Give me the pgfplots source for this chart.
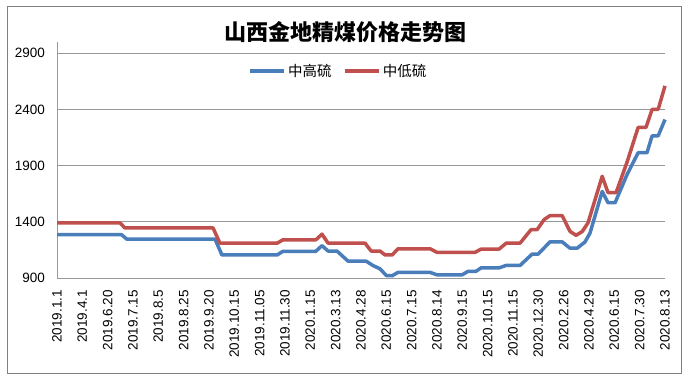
\documentclass[border=0pt]{standalone}
\usepackage{fontspec}
\usepackage{pgfplots}
\pgfplotsset{compat=1.18}
\setmainfont{Liberation Sans}
\newfontfamily\cjk{Noto Sans CJK SC}
\definecolor{sblue}{RGB}{74,126,187}
\definecolor{sred}{RGB}{192,80,77}
\begin{document}
\begin{tikzpicture}
\path[use as bounding box, fill=white] (0,0) rectangle (687bp,381bp);
\draw[black!50, line width=0.8bp] (7bp,8bp) rectangle (681bp,375bp);
\node at (345bp,349bp) {\cjk\bfseries\fontsize{22bp}{24bp}\selectfont 山西金地精煤价格走势图};
\begin{axis}[
 at={(57bp,103bp)}, anchor=south west, scale only axis,
 width=608bp, height=236bp,
 xmin=0, xmax=24, ymin=900, ymax=3000,
 ytick={900,1400,1900,2400,2900},
 xtick={0,...,24},
 xticklabels={2019.1.1,2019.4.1,2019.6.20,2019.7.15,2019.8.5,2019.8.25,2019.9.20,2019.10.15,2019.11.05,2019.11.30,2020.1.15,2020.3.13,2020.4.28,2020.6.15,2020.7.15,2020.8.14,2020.9.15,2020.10.15,2020.11.15,2020.12.30,2020.2.26,2020.4.29,2020.6.15,2020.7.30,2020.8.13},
 axis x line*=bottom, axis y line*=left,
 axis line style={draw=black!40, line width=0.8bp, -},
 major tick length=0pt,
 ymajorgrids, grid style={black!40, line width=0.8bp},
 tick label style={font=\fontsize{13.5bp}{15bp}\selectfont, text=black},
 /pgf/number format/assume math mode=true,
 /pgf/number format/1000 sep={},
 xticklabel style={rotate=90, anchor=east, inner sep=0pt},
 yticklabel style={anchor=east, inner sep=0pt},
 xticklabel shift=12bp, yticklabel shift=12bp,
 clip=false,
 legend columns=2,
 legend style={draw=none, fill=none, at={(0.463,0.877)}, anchor=center,
   font=\cjk\fontsize{14.5bp}{16bp}\selectfont,
   /tikz/every even column/.append style={column sep=10bp}},
 legend image code/.code={\draw[#1] (0bp,0bp) -- (34bp,0bp);},
]
\addplot[sblue, line width=3.5bp, line join=round] coordinates {
(0,1285) (2.55,1285) (2.76,1245) (6.24,1245) (6.51,1105) (8.69,1105) (8.92,1138) (10.22,1138) (10.46,1188) (10.70,1140) (11.05,1140) (11.49,1050) (12.20,1050) (12.48,1010) (12.75,982) (13.0,922) (13.23,920) (13.46,950) (14.73,950) (15.0,928) (15.99,928) (16.23,960) (16.54,960) (16.74,990) (17.45,990) (17.73,1012) (18.28,1012) (18.75,1112) (18.99,1112) (19.46,1222) (19.94,1222) (20.25,1165) (20.53,1165) (20.84,1220) (21.04,1300) (21.52,1670) (21.75,1570) (22.03,1570) (22.50,1820) (22.94,2015) (23.29,2015) (23.49,2165) (23.73,2165) (24,2310)
};
\addlegendentry{中高硫}
\addplot[sred, line width=3.5bp, line join=round] coordinates {
(0,1390) (2.49,1390) (2.68,1345) (6.16,1345) (6.43,1210) (8.69,1210) (8.92,1240) (10.22,1240) (10.46,1290) (10.70,1210) (12.16,1210) (12.40,1140) (12.75,1140) (12.95,1105) (13.23,1105) (13.46,1160) (14.73,1160) (15.00,1128) (16.50,1128) (16.74,1157) (17.45,1157) (17.73,1210) (18.28,1210) (18.71,1330) (18.95,1330) (19.23,1420) (19.46,1455) (19.94,1455) (20.25,1315) (20.49,1280) (20.73,1313) (20.96,1390) (21.52,1805) (21.75,1660) (22.07,1660) (22.50,1930) (22.94,2240) (23.25,2240) (23.49,2400) (23.73,2400) (24,2610)
};
\addlegendentry{中低硫}
\end{axis}
\end{tikzpicture}
\end{document}
